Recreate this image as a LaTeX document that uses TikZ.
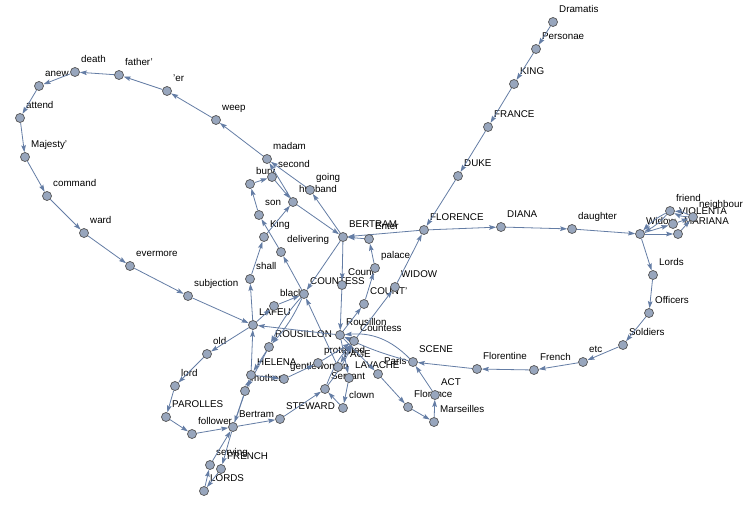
\documentclass[tikz,border=0pt]{standalone}
\usepackage{fontspec}
\setmainfont{Liberation Sans}
\usetikzlibrary{arrows.meta}
\definecolor{edgec}{RGB}{100,125,165}
\definecolor{vfill}{RGB}{152,166,189}
\definecolor{vdraw}{RGB}{85,85,85}
\pgfdeclarelayer{bg}\pgfdeclarelayer{lbl}\pgfdeclarelayer{edg}
\pgfsetlayers{bg,lbl,edg,main}
\tikzset{
 vtx/.style={circle,draw=vdraw,fill=vfill,line width=0.7pt,minimum size=9pt,inner sep=0pt},
 lbl/.style={anchor=base west,inner sep=0pt,font=\fontsize{9.8}{10}\selectfont,text=black},
 edge/.style={draw=edgec,line width=0.8pt,-{Stealth[length=7pt,width=4.6pt,inset=1.2pt]}},
}
\newcommand\V[4]{\node[vtx] (#1) at (#2,#3) {};
 \begin{pgfonlayer}{lbl}\node[lbl] (#1-l) at ({#2+6},{#3-9.5}) {#4};\end{pgfonlayer}}
\newcommand\E[2]{\draw[edge] (#1) -- (#2);}
\begin{document}
\begin{tikzpicture}[x=1pt,y=-1pt]
\begin{pgfonlayer}{bg}
\fill[white] (0,0) rectangle (751,505);
\end{pgfonlayer}
\useasboundingbox (0,0) rectangle (751,505);
\V{Dramatis}{553}{22}{Dramatis}
\V{Personae}{536}{49}{Personae}
\V{KING}{514}{84}{KING}
\V{FRANCE}{488}{127}{FRANCE}
\V{DUKE}{458}{176}{DUKE}
\V{FLORENCE}{424}{230}{FLORENCE}
\V{DIANA}{501}{227}{DIANA}
\V{daughter}{572}{229}{daughter}
\V{Widow}{640}{234}{Widow}
\V{friend}{670}{211}{friend}
\V{VIOLENTA}{673}{224}{VIOLENTA}
\V{MARIANA}{678}{234}{MARIANA}
\V{neighbour}{693}{217}{neighbour}
\V{Lords}{653}{275}{Lords}
\V{Officers}{649}{313}{Officers}
\V{Soldiers}{623}{345}{Soldiers}
\V{etc}{583}{362}{etc}
\V{French}{534}{370}{French}
\V{Florentine}{477}{369}{Florentine}
\V{SCENE}{413}{362}{SCENE}
\V{ACT}{435}{395}{ACT}
\V{Florence}{408}{407}{Florence}
\V{Marseilles}{434}{422}{Marseilles}
\V{Paris}{378}{374}{Paris}
\V{LAVACHE}{349}{378}{LAVACHE}
\V{clown}{343}{408}{clown}
\V{Servant}{325}{389}{Servant}
\V{protected}{318}{363}{protected}
\V{PAGE}{338}{367}{PAGE}
\V{Countess}{354}{341}{Countess}
\V{Rousillon}{340}{335}{Rousillon}
\V{COUNTp}{364}{304}{COUNT'}
\V{palace}{375}{268}{palace}
\V{Enter}{369}{239}{Enter}
\V{WIDOW}{395}{287}{WIDOW}
\V{BERTRAM}{343}{237}{BERTRAM}
\V{Count}{342}{285}{Count}
\V{COUNTESS}{304}{294}{COUNTESS}
\V{black}{274}{306}{black}
\V{LAFEU}{253}{325}{LAFEU}
\V{ROUSILLON}{269}{347}{ROUSILLON}
\V{HELENA}{251}{375}{HELENA}
\V{mother}{245}{391}{mother}
\V{gentlewoman}{284}{379}{gentlewoman}
\V{STEWARD}{280}{419}{STEWARD}
\V{Bertram}{233}{427}{Bertram}
\V{follower}{192}{434}{follower}
\V{PAROLLES}{166}{417}{PAROLLES}
\V{lord}{175}{386}{lord}
\V{old}{207}{354}{old}
\V{subjection}{188}{296}{subjection}
\V{evermore}{130}{266}{evermore}
\V{ward}{84}{233}{ward}
\V{command}{47}{196}{command}
\V{majesty}{25}{157}{Majesty'}
\V{attend}{20}{118}{attend}
\V{anew}{39}{86}{anew}
\V{death}{75}{72}{death}
\V{father}{119}{75}{father'}
\V{er}{167}{91}{'er}
\V{weep}{216}{120}{weep}
\V{madam}{267}{159}{madam}
\V{second}{272}{177}{second}
\V{bury}{250}{184}{bury}
\V{son}{259}{215}{son}
\V{King}{264}{237}{King}
\V{delivering}{281}{252}{delivering}
\V{husband}{293}{202}{husband}
\V{going}{310}{190}{going}
\V{shall}{250}{279}{shall}
\V{serving}{210}{465}{serving}
\V{FRENCH}{221}{469}{FRENCH}
\V{LORDS}{204}{491}{LORDS}
\begin{pgfonlayer}{edg}
\E{Dramatis}{Personae}\E{Personae}{KING}\E{KING}{FRANCE}\E{FRANCE}{DUKE}
\E{DUKE}{FLORENCE}\E{FLORENCE}{BERTRAM}\E{BERTRAM}{Count}\E{Count}{Rousillon}
\E{Rousillon}{LAFEU}\E{LAFEU}{old}\E{old}{lord}\E{lord}{PAROLLES}
\E{PAROLLES}{follower}\E{follower}{Bertram}\E{Bertram}{FRENCH}\E{FRENCH}{LORDS}
\E{LORDS}{serving}\E{serving}{Bertram}\E{Bertram}{STEWARD}\E{STEWARD}{Servant}
\draw[edge] (Servant) to[bend left=10] (Countess);
\draw[edge] (Servant) to[bend right=6] (Countess);
\E{Countess}{Rousillon}\E{Rousillon}{LAVACHE}\E{LAVACHE}{clown}\E{clown}{Servant}
\E{Countess}{PAGE}\E{PAGE}{COUNTESS}
\draw[edge] (COUNTESS) to[bend left=8] (ROUSILLON);
\draw[edge] (COUNTESS) to[bend right=8] (ROUSILLON);
\E{ROUSILLON}{mother}\E{mother}{Bertram}\E{Bertram}{HELENA}\E{HELENA}{gentlewoman}
\E{gentlewoman}{protected}\E{protected}{Countess}\E{Countess}{WIDOW}\E{WIDOW}{FLORENCE}
\E{FLORENCE}{DIANA}\E{DIANA}{daughter}\E{daughter}{Widow}\E{Widow}{VIOLENTA}
\E{VIOLENTA}{neighbour}
\draw[edge] (neighbour) to[bend left=12] (friend);
\draw[edge] (neighbour) to[bend right=12] (friend);
\draw[edge] (friend) to[bend left=10] (Widow);
\draw[edge] (friend) to[bend right=10] (Widow);
\E{Widow}{MARIANA}\E{MARIANA}{neighbour}\E{Widow}{Lords}\E{Lords}{Officers}
\E{Officers}{Soldiers}\E{Soldiers}{etc}\E{etc}{French}\E{French}{Florentine}
\E{Florentine}{SCENE}
\draw[edge] (SCENE) to[bend right=25] (Rousillon);
\draw[edge] (SCENE) to[bend left=5] (Rousillon);
\E{Rousillon}{Paris}\E{Paris}{Florence}\E{Florence}{Marseilles}\E{Marseilles}{ACT}
\E{ACT}{SCENE}\E{Rousillon}{COUNTp}\E{COUNTp}{palace}\E{palace}{Enter}
\E{Enter}{BERTRAM}\E{BERTRAM}{COUNTESS}\E{ROUSILLON}{HELENA}\E{HELENA}{LAFEU}
\E{LAFEU}{black}\E{black}{COUNTESS}\E{COUNTESS}{delivering}\E{delivering}{son}
\E{son}{bury}\E{bury}{second}\E{second}{husband}\E{husband}{BERTRAM}
\E{BERTRAM}{going}\E{going}{madam}\E{madam}{weep}\E{weep}{er}\E{er}{father}
\E{father}{death}\E{death}{anew}\E{anew}{attend}\E{attend}{majesty}
\E{majesty}{command}\E{command}{ward}\E{ward}{evermore}\E{evermore}{subjection}
\E{subjection}{LAFEU}\E{LAFEU}{shall}\E{shall}{King}\E{King}{husband}
\E{husband}{madam}
\end{pgfonlayer}
\end{tikzpicture}
\end{document}
